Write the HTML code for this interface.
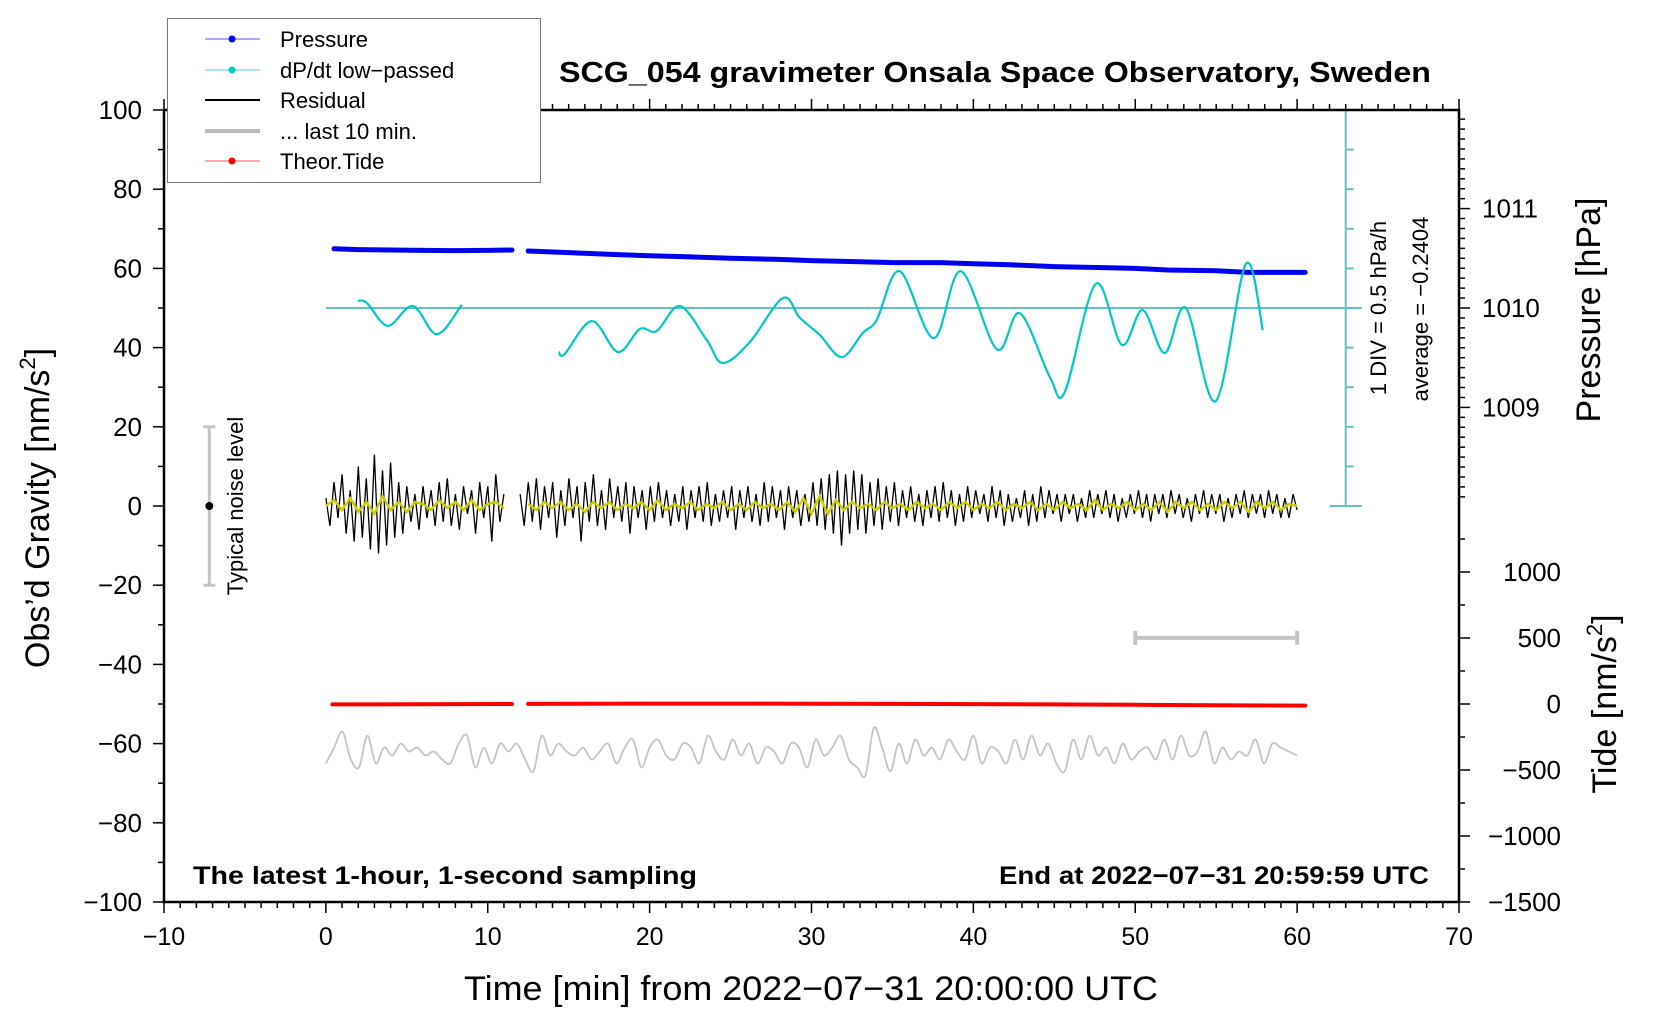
<!DOCTYPE html>
<html><head><meta charset="utf-8"><style>
body{margin:0;background:#fff}
svg{display:block;font-family:"Liberation Sans",Arial,sans-serif}
</style></head><body>
<svg id="chart" width="1660" height="1020" viewBox="0 0 1660 1020">
<rect x="0" y="0" width="1660" height="1020" fill="#fff"/>
<g id="marks"></g>
<g id="axes"></g>
<text x="995" y="82" text-anchor="middle" font-size="29" font-weight="bold" textLength="872" lengthAdjust="spacingAndGlyphs">SCG_054 gravimeter Onsala Space Observatory, Sweden</text>
<text x="193" y="884" font-size="25" font-weight="bold" textLength="504" lengthAdjust="spacingAndGlyphs">The latest 1-hour, 1-second sampling</text>
<text x="1429" y="884" text-anchor="end" font-size="25" font-weight="bold" textLength="430" lengthAdjust="spacingAndGlyphs">End at 2022−07−31 20:59:59 UTC</text>
<text x="811" y="1000" text-anchor="middle" font-size="34" textLength="694" lengthAdjust="spacingAndGlyphs">Time [min] from 2022−07−31 20:00:00 UTC</text>
<text transform="translate(49,508) rotate(-90)" text-anchor="middle" font-size="34">Obs’d Gravity [nm/s<tspan font-size="22" dy="-14">2</tspan><tspan dy="14">]</tspan></text>
<text transform="translate(1600,310) rotate(-90)" text-anchor="middle" font-size="34">Pressure [hPa]</text>
<text transform="translate(1616,704) rotate(-90)" text-anchor="middle" font-size="34">Tide [nm/s<tspan font-size="22" dy="-14">2</tspan><tspan dy="14">]</tspan></text>
<text transform="translate(1386,308) rotate(-90)" text-anchor="middle" font-size="22">1 DIV = 0.5 hPa/h</text>
<text transform="translate(1428,309) rotate(-90)" text-anchor="middle" font-size="22">average = −0.2404</text>
<text transform="translate(243,506) rotate(-90)" text-anchor="middle" font-size="22">Typical noise level</text>
<g>
<rect x="167.5" y="18.5" width="373" height="164" fill="#fff" stroke="#777" stroke-width="1"/>
<g><line x1="205" y1="39" x2="260" y2="39" stroke="#55f" stroke-width="1"/><circle cx="232" cy="39" r="3.5" fill="#00f"/><text x="280" y="47" font-size="22">Pressure</text></g>
<g><line x1="205" y1="70" x2="260" y2="70" stroke="#5cc" stroke-width="1"/><circle cx="232" cy="70" r="3.5" fill="#0cc"/><text x="280" y="78" font-size="22">dP/dt low−passed</text></g>
<g><line x1="205" y1="100" x2="260" y2="100" stroke="#000" stroke-width="2"/><text x="280" y="108" font-size="22">Residual</text></g>
<g><line x1="205" y1="131" x2="260" y2="131" stroke="#bbb" stroke-width="4"/><text x="280" y="139" font-size="22">... last 10 min.</text></g>
<g><line x1="205" y1="161" x2="260" y2="161" stroke="#f55" stroke-width="1"/><circle cx="232" cy="161" r="3.5" fill="#f00"/><text x="280" y="169" font-size="22">Theor.Tide</text></g>
</g>
</svg>
<script>
// ---- data ----
const pressTime1 = [0.5, 2, 4, 6, 8, 10, 11.5];
const pressVal1 = [1010.596, 1010.588, 1010.584, 1010.580, 1010.577, 1010.580, 1010.584];
const pressTime2 = [12.5, 15, 18, 20, 22, 25, 28, 30, 33, 35, 38, 40, 42, 45, 48, 50, 52, 55, 57, 60.5];
const pressVal2 = [1010.573, 1010.557, 1010.537, 1010.525, 1010.517, 1010.501, 1010.489, 1010.477, 1010.465, 1010.457, 1010.457, 1010.445, 1010.437, 1010.417, 1010.406, 1010.398, 1010.382, 1010.374, 1010.358, 1010.358];
const dpdtTime1 = [1.98, 2.53, 3.83, 5.37, 6.86, 8.4];
const dpdtVal1 = [51.8, 51.3, 45.5, 50.5, 43.4, 50.8];
const dpdtTime2 = [14.39, 14.76, 16.43, 18.04, 19.39, 20.44, 21.87, 23.53, 24.52, 26.19, 28.23, 29.28, 30.51, 31.87, 33.17, 34.03, 35.45, 37.55, 39.22, 41.45, 42.87, 44.72, 45.65, 47.56, 49.17, 50.46, 51.82, 53.12, 54.97, 56.83, 57.88];
const dpdtVal2 = [38.9, 38.4, 46.7, 38.9, 44.7, 44.2, 50.5, 41.9, 36.1, 41.4, 52.5, 47.5, 43.2, 37.6, 43.7, 47.0, 59.3, 42.4, 59.3, 39.6, 48.7, 32.6, 28.8, 56.1, 40.7, 49.5, 38.6, 50.0, 26.5, 61.1, 44.4];
const resStart1 = 0, resEnd1 = 11, resStart2 = 12, resEnd2 = 60;
const residual1 = [2,-5,6,-3,8,-7,4,-9,10,-8,7,-11,13,-12,9,-10,11,-8,6,-7,5,-4,3,-6,5,-3,4,-5,6,-4,7,-5,3,-6,5,-2,4,-7,6,-3,5,-9,8,-4,3];
const residual2 = [3,-5,6,-4,7,-6,5,-3,6,-8,4,-5,7,-3,5,-9,6,-4,8,-5,4,-6,7,-3,5,-4,6,-7,5,-3,4,-6,
5,-4,6,-3,4,-5,3,-4,5,-6,4,-3,5,-4,6,-5,3,-4,4,-3,5,-6,4,-3,5,-4,3,-5,6,-4,5,-3,4,-6,5,-3,4,-5,3,-4,
6,-5,7,-6,8,-7,9,-10,8,-7,9,-6,8,-7,6,-5,7,-6,5,-4,6,-5,4,-3,
5,-4,3,-5,4,-3,5,-4,6,-3,4,-5,3,-4,5,-3,4,-2,3,-4,5,-3,4,-5,3,-4,2,-3,4,-5,3,-4,5,-3,4,-2,3,-4,3,-2,
3,-4,2,-3,4,-3,3,-2,4,-3,3,-4,2,-3,3,-2,4,-3,3,-4,3,-2,3,-3,4,-2,3,-3,2,-4,3,-2,4,-3,3,-2,3,-4,2,-3,3,-2,4,-3,3,-2,3,-3,4,-2,3,-3,2,-3,3,-1];
const smoothStart1 = 0, smoothEnd1 = 11, smoothStart2 = 12.5, smoothEnd2 = 60;
const smooth1 = [0,1.5,-1,2,-1.5,1,-2,2.5,-1,1,-1.5,1,0.5,-1,1.5,-0.5,1,-1,1.5,-1,0.5,1,-0.5];
const smooth2 = [0.5,-1,1,-0.5,1,-1,0.5,-1.5,1,-0.5,1,-1,0.5,-0.5,1,-1,1.5,-1,0.5,-0.5,1,-1,0.5,-0.5,1,-1,0.5,-1,1,-0.5,0.5,-1,1,-1.5,2,-2,2.5,-2,1.5,-1,1,-0.5,0.5,-1,1,-0.5,0.5,-1,1,-0.5,0.5,-1,1,-0.5,1,-1,0.5,-0.5,1,-1,0.5,-0.5,1,-1,0.5,-1,1,-0.5,0.5,-1,1.5,-1,0.5,-0.5,1,-1,0.5,-1,1,-1.5,1,-0.5,1,-1,0.5,-1,1,-0.5,1,-1.5,1,-0.5,1,-1,0.5,0];
const last10Offset = -62, last10Start = 0, last10End = 60;
const last10Dev = [-3,1,5,-2,-4,4,-3,1,-1,2,0,1,-1,0,-2,-3,2,4,-4,1,-3,2,0,2,-2,-5,4,-1,2,0,-1,1,-2,0,2,-3,1,3,-4,1,3,-1,-2,2,1,-3,4,0,-2,3,-1,2,-3,1,0,-3,2,1,-4,3,-1,1,4,-2,-4,-6,6,1,-5,2,-3,3,-1,1,-2,3,0,-2,4,-3,1,0,-3,3,-2,4,-1,2,-3,-5,3,-2,4,-1,1,-3,2,-2,0,1,-2,3,-2,4,-1,0,5,-3,1,-2,0,-1,3,-3,2,1,0,-1];
const tideTime1 = [0.4, 5, 11.5];
const tideVal1 = [-3, -2, 0];
const tideTime2 = [12.5, 20, 30, 40, 50, 55, 60.5];
const tideVal2 = [1, 3, 2, -1, -6, -9, -12];
const xTicks = [-10,0,10,20,30,40,50,60,70];
const yTicks = [100,80,60,40,20,0,-20,-40,-60,-80,-100];
const pressTicks = [1009,1010,1011];
const tideTicks = [1000,500,0,-500,-1000,-1500];
const noiseBar = [-20, 20];
const last10Bar = [50, 60];

// ---- scales ----
const X = m => 164 + (m + 10) * (1459 - 164) / 80;
const Y = g => 110 + (100 - g) * 3.96;
const YP = p => Y(50 + (p - 1010) * 25.1);
const YT = t => Y(-50 + t / 30);
const NS = 'http://www.w3.org/2000/svg';
const marks = document.getElementById('marks');
const axes = document.getElementById('axes');
function mk(tag, attrs, parent){ const e=document.createElementNS(NS,tag); for(const k in attrs) e.setAttribute(k,attrs[k]); parent.appendChild(e); return e; }
function poly(ts, vs, yf){ return ts.map((t,i)=>X(t).toFixed(1)+','+yf(vs[i]).toFixed(1)).join(' '); }
function span(start, end, vals){ const st=(end-start)/(vals.length-1); return vals.map((_,i)=>start+i*st); }
function smoothPath(ts, vs){
  const p = ts.map((t,i)=>[X(t), Y(vs[i])]);
  let d = 'M'+p[0][0]+','+p[0][1];
  for(let i=0;i<p.length-1;i++){
    const p0=p[Math.max(0,i-1)], p1=p[i], p2=p[i+1], p3=p[Math.min(p.length-1,i+2)];
    const c1=[p1[0]+(p2[0]-p0[0])/6, p1[1]+(p2[1]-p0[1])/6];
    const c2=[p2[0]-(p3[0]-p1[0])/6, p2[1]-(p3[1]-p1[1])/6];
    d+=' C'+c1[0].toFixed(1)+','+c1[1].toFixed(1)+' '+c2[0].toFixed(1)+','+c2[1].toFixed(1)+' '+p2[0].toFixed(1)+','+p2[1].toFixed(1);
  }
  return d;
}

// cyan dP/dt axis
const cx = X(63);
let e;
e = mk('line',{x1:X(0),y1:Y(50),x2:cx+16,y2:Y(50),stroke:'#66c2c2','stroke-width':2},marks);


e = mk('line',{x1:cx,y1:Y(100),x2:cx,y2:Y(0),stroke:'#66c2c2','stroke-width':2},marks);


for(let g=0; g<=100; g+=10){
  const end = (g===0||g===100);
  e = mk('line',{x1:end?cx-16:cx,y1:Y(g),x2:cx+(end?16:8),y2:Y(g),stroke:'#66c2c2','stroke-width':2},marks);
  
  
}

// pressure
[[pressTime1,pressVal1],[pressTime2,pressVal2]].forEach(([ts,vs],k)=>{
  e = mk('polyline',{points:poly(ts,vs,YP),fill:'none',stroke:'#0000f0','stroke-width':5,'stroke-linecap':'round','stroke-linejoin':'round'},marks);
  
  
});
// dpdt
[[dpdtTime1,dpdtVal1],[dpdtTime2,dpdtVal2]].forEach(([ts,vs],k)=>{
  e = mk('path',{d:smoothPath(ts,vs),fill:'none',stroke:'#00c8c8','stroke-width':2.2},marks);
  
  
});
// residual
[[resStart1,resEnd1,residual1],[resStart2,resEnd2,residual2]].forEach(([s,en,vs],k)=>{
  e = mk('polyline',{points:poly(span(s,en,vs),vs,Y),fill:'none',stroke:'#000','stroke-width':1.3},marks);
  
  
});
[[smoothStart1,smoothEnd1,smooth1],[smoothStart2,smoothEnd2,smooth2]].forEach(([s,en,vs],k)=>{
  e = mk('polyline',{points:poly(span(s,en,vs),vs,Y),fill:'none',stroke:'#cccc00','stroke-width':2.5},marks);
  
  
});
// last 10 min
const l10 = last10Dev.map(d=>last10Offset+d);
e = mk('path',{d:smoothPath(span(last10Start,last10End,l10),l10),fill:'none',stroke:'#c4c4c4','stroke-width':1.8},marks);


// tide
[[tideTime1,tideVal1],[tideTime2,tideVal2]].forEach(([ts,vs],k)=>{
  e = mk('polyline',{points:poly(ts,vs,YT),fill:'none',stroke:'#f00','stroke-width':4,'stroke-linecap':'round'},marks);
  
  
});
// noise bar
const nx = X(-7.2);
e = mk('g',{stroke:'#c4c4c4','stroke-width':3},marks);


mk('line',{x1:nx,y1:Y(noiseBar[0]),x2:nx,y2:Y(noiseBar[1])},e);
mk('line',{x1:nx-6,y1:Y(noiseBar[0]),x2:nx+6,y2:Y(noiseBar[0])},e);
mk('line',{x1:nx-6,y1:Y(noiseBar[1]),x2:nx+6,y2:Y(noiseBar[1])},e);
e = mk('circle',{cx:nx,cy:Y(0),r:4,fill:'#000'},marks);


// last 10 bar
const by = Y(-33.3);
e = mk('g',{stroke:'#c4c4c4','stroke-width':4},marks);


mk('line',{x1:X(last10Bar[0]),y1:by,x2:X(last10Bar[1]),y2:by},e);
mk('line',{x1:X(last10Bar[0]),y1:by-7,x2:X(last10Bar[0]),y2:by+7},e);
mk('line',{x1:X(last10Bar[1]),y1:by-7,x2:X(last10Bar[1]),y2:by+7},e);

// ---- axes ----
e = mk('rect',{x:X(-10),y:Y(100),width:X(70)-X(-10),height:Y(-100)-Y(100),fill:'none',stroke:'#000','stroke-width':2.5},axes);


const tg = mk('g',{stroke:'#000','stroke-width':1.5},axes);


for(let m=-10;m<=70;m++){
  const maj = m%10===0, x=X(m);
  mk('line',{x1:x,y1:Y(-100),x2:x,y2:Y(-100)+(maj?11:6)},tg);
  mk('line',{x1:x,y1:Y(100),x2:x,y2:Y(100)-(maj?11:6)},tg);
}
for(let g=-100; g<=100; g+=10){
  mk('line',{x1:X(-10),y1:Y(g),x2:X(-10)-(g%20===0?11:6),y2:Y(g)},tg);
}
for(let p=1008.1;p<=1011.95;p+=0.1){
  const r=Math.round(p*10)/10, maj = Math.abs(r-Math.round(r))<0.01;
  mk('line',{x1:X(70),y1:YP(r),x2:X(70)+(maj?11:6),y2:YP(r)},tg);
}
for(let t=-1500;t<=1250;t+=250){
  mk('line',{x1:X(70),y1:YT(t),x2:X(70)+(t%500===0?11:6),y2:YT(t)},tg);
}
xTicks.forEach(v=>{
  e = mk('text',{x:X(v),y:945,'text-anchor':'middle','font-size':25},axes);
  e.textContent = v<0 ? '−'+Math.abs(v) : String(v);
  
  
});
yTicks.forEach(v=>{
  e = mk('text',{x:X(-10)-22,y:Y(v)+9,'text-anchor':'end','font-size':26},axes);
  e.textContent = v<0 ? '−'+Math.abs(v) : String(v);
  
  
});
pressTicks.forEach(v=>{
  e = mk('text',{x:X(70)+23,y:YP(v)+9,'font-size':26},axes);
  e.textContent = String(v);
  
  
});
tideTicks.forEach(v=>{
  e = mk('text',{x:1561,y:YT(v)+9,'text-anchor':'end','font-size':26},axes);
  e.textContent = v<0 ? '−'+Math.abs(v) : String(v);
  
  
});
</script>
</body></html>
